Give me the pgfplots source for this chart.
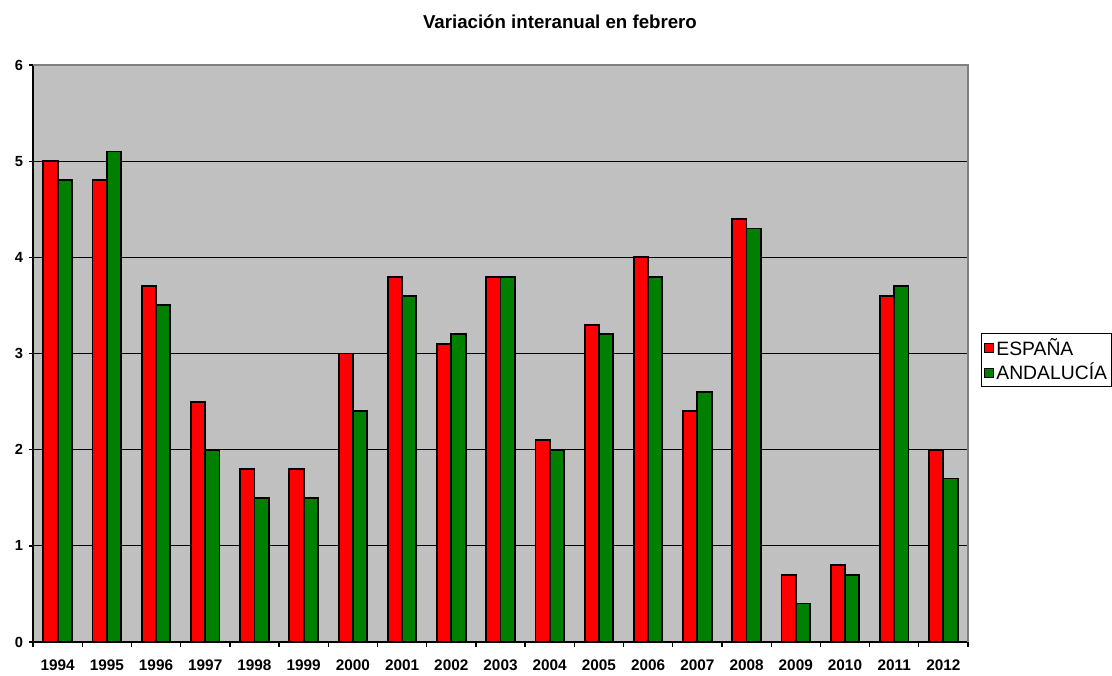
\documentclass[border=0pt]{standalone}
\usepackage{fontspec}
\setmainfont{Liberation Sans}
\usepackage{pgfplots}
\usepackage{pgfplotstable}
\pgfplotsset{compat=1.18}
\definecolor{plotgray}{RGB}{192,192,192}
\definecolor{dkgreen}{RGB}{0,128,0}
\definecolor{bordergray}{RGB}{128,128,128}
\pgfplotstableread{
x espana andalucia
0  5.0 4.8
1  4.8 5.1
2  3.7 3.5
3  2.5 2.0
4  1.8 1.5
5  1.8 1.5
6  3.0 2.4
7  3.8 3.6
8  3.1 3.2
9  3.8 3.8
10 2.1 2.0
11 3.3 3.2
12 4.0 3.8
13 2.4 2.6
14 4.4 4.3
15 0.7 0.4
16 0.8 0.7
17 3.6 3.7
18 2.0 1.7
}\datatable
\begin{document}
\begin{tikzpicture}
\path[use as bounding box] (-24.75pt,-24.75pt) rectangle (809.25pt,481.5pt);
\begin{axis}[
  at={(0pt,0pt)}, anchor=south west,
  scale only axis, width=701.25pt, height=432.75pt,
  xmin=-0.5, xmax=18.5, ymin=0, ymax=6,
  xtick={0,...,18},
  xticklabels={1994,1995,1996,1997,1998,1999,2000,2001,2002,2003,2004,2005,2006,2007,2008,2009,2010,2011,2012},
  minor xtick={-0.5,0.5,...,18.5},
  ytick={0,...,6},
  ymajorgrids, grid style={black, line width=0.8pt},
  axis x line*=bottom, axis y line*=left,
  axis line style={black, line width=1.4pt, -},
  tick style={black, line width=1pt},
  tick align=outside,
  major tick length=3pt, minor tick length=3.5pt,
  major x tick style={draw=none},
  axis background/.style={fill=plotgray},
  /pgf/number format/assume math mode=true,
  xticklabel style={font=\bfseries\fontsize{11.5}{13}\selectfont, yshift=-6.5pt},
  yticklabel style={font=\bfseries\fontsize{11}{13}\selectfont, xshift=-1pt},
  ybar=0pt, bar width=0.29,
  legend style={at={(1.014,0.5355)}, anchor=north west, draw=black, line width=0.8pt, fill=white,
    font=\fontsize{14.5}{16}\selectfont, inner sep=1.5pt, row sep=0.5pt},
  legend cell align=left,
  clip=false,
]
\addplot[fill=red, draw=black, line width=1.4pt, bar shift=-0.145,
  legend image code/.code={\draw[fill=red, draw=black, line width=0.8pt] (0pt,-3.4pt) rectangle (6.75pt,3.4pt);}]
  table[x=x, y=espana] {\datatable};
\addplot[fill=dkgreen, draw=black, line width=1.4pt, bar shift=0.145,
  legend image code/.code={\draw[fill=dkgreen, draw=black, line width=0.8pt] (0pt,-3.4pt) rectangle (6.75pt,3.4pt);}]
  table[x=x, y=andalucia] {\datatable};
\legend{ESPAÑA, ANDALUCÍA}
\draw[bordergray, line width=1pt] (rel axis cs:0,1) -- (rel axis cs:1,1) -- (rel axis cs:1,0);
\node[font=\bfseries\fontsize{14}{16}\selectfont] at (rel axis cs:0.5636,1.0745) {Variación interanual en febrero};
\end{axis}
\end{tikzpicture}
\end{document}
